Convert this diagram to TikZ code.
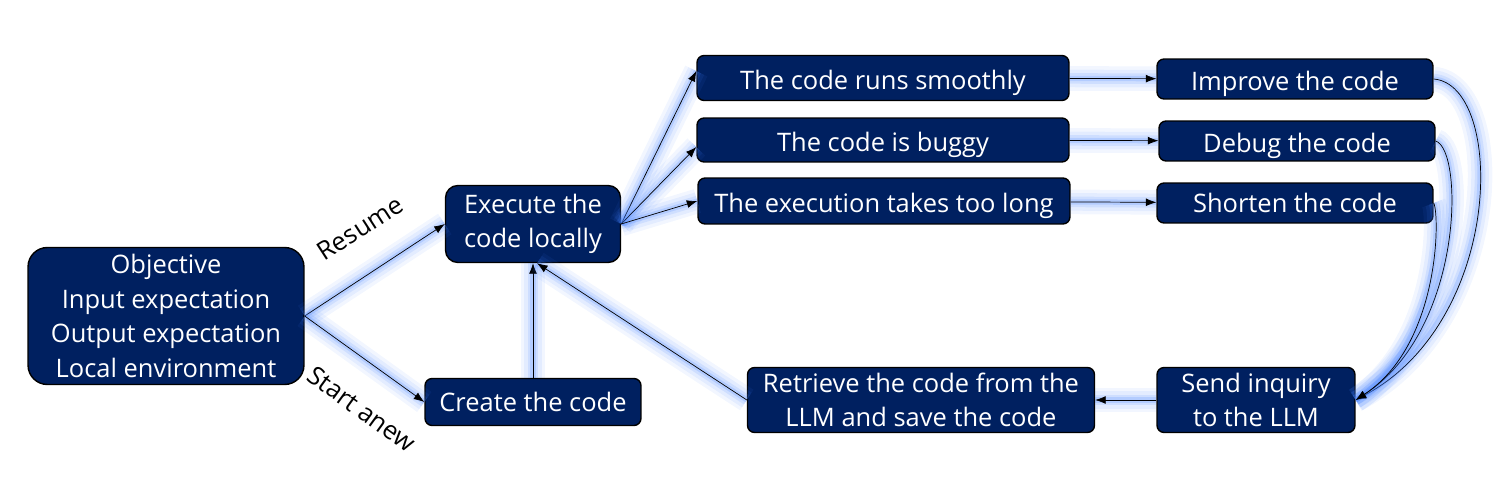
\documentclass[tikz,border=0pt]{standalone}
\usepackage{fontspec}
\setmainfont{Open Sans}
\usetikzlibrary{arrows.meta}
\definecolor{navy}{RGB}{0,32,96}
\definecolor{glowblue}{RGB}{70,130,255}

\begin{document}
\begin{tikzpicture}[x=0.02cm,y=-0.02cm,
  box/.style={draw=black,fill=navy,text=white,
    rounded corners=4pt,line width=0.8pt,inner sep=1pt,
    font=\fontsize{14.5}{19.6}\selectfont},
  stack/.style={align=center},
  sink/.style={text height=17pt,text depth=3.5pt},
  link/.style={-{Latex[length=6pt,width=4.5pt]},black,line width=0.4pt,
    preaction={draw=glowblue,line width=14pt,opacity=0.07,-},
    preaction={draw=glowblue,line width=10pt,opacity=0.09,-},
    preaction={draw=glowblue,line width=6pt,opacity=0.13,-},
    preaction={draw=glowblue,line width=3pt,opacity=0.2,-}},
  tag/.style={font=\fontsize{14.5}{18}\selectfont}]
  \useasboundingbox (0,0) rectangle (1509,500);

  \node[box,stack,minimum width=5.52cm,minimum height=2.74cm,rounded corners=11pt] (goal) at (166,316)
    {Objective\\Input expectation\\Output expectation\\Local environment};
  \node[box,stack,minimum width=3.5cm,minimum height=1.54cm,rounded corners=7pt] (exec) at (533,224)
    {Execute the\\code locally};
  \node[box,minimum width=4.32cm,minimum height=0.94cm] (create) at (533,402) {Create the code};

  \node[box,sink,minimum width=7.44cm,minimum height=0.9cm] (runs) at (883,78) {The code runs smoothly};
  \node[box,sink,minimum width=7.44cm,minimum height=0.88cm] (buggy) at (883,140) {The code is buggy};
  \node[box,sink,minimum width=7.44cm,minimum height=0.92cm] (slow) at (884,201) {The execution takes too long};

  \node[box,sink,minimum width=5.52cm,minimum height=0.8cm] (improve) at (1295,79) {Improve the code};
  \node[box,sink,minimum width=5.52cm,minimum height=0.8cm] (debug) at (1297,141) {Debug the code};
  \node[box,minimum width=5.52cm,minimum height=0.8cm] (shorten) at (1295,203) {Shorten the code};

  \node[box,stack,minimum width=3.96cm,minimum height=1.3cm] (inquiry) at (1256,400) {Send inquiry\\to the LLM};
  \node[box,stack,minimum width=6.94cm,minimum height=1.3cm] (retrieve) at (921,400)
    {Retrieve the code from the\\LLM and save the code};

  \node[tag,rotate=33] (resume) at (360,228) {Resume};
  \node[tag,rotate=-36] (anew) at (362,409) {Start anew};

  % first choice
  \draw[link] (goal.east) -- (exec.west);
  \draw[link] (goal.east) -- (create.west);
  \draw[link] (create) -- (exec);

  % outcomes of a run
  \draw[link] (exec.east) -- ([yshift=0.14cm]runs.west);
  \draw[link] (exec.east) -- ([yshift=-0.14cm]buggy.west);
  \draw[link] (exec.east) -- (slow.west);
  \draw[link] (runs) -- (improve);
  \draw[link] (buggy) -- (debug);
  \draw[link] (slow) -- (shorten);

  % back to the LLM
  \draw[link] (improve.east) .. controls (1505,85) and (1505,320) .. (inquiry.east);
  \draw[link] (debug.east) .. controls (1464,150) and (1464,330) .. (inquiry.east);
  \draw[link] (shorten.east) .. controls (1440,215) and (1440,345) .. (inquiry.east);
  \draw[link] (inquiry) -- (retrieve);
  \draw[link] (retrieve.west) -- ([xshift=0.08cm]exec.south);
\end{tikzpicture}
\end{document}
